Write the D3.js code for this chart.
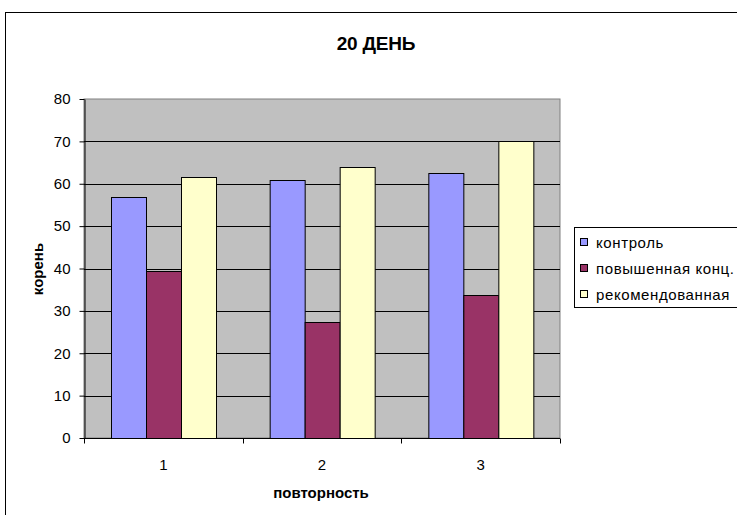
<!DOCTYPE html>
<html>
<head>
<meta charset="utf-8">
<script src="https://cdn.jsdelivr.net/npm/d3@7"></script>
<style>
  html, body { margin: 0; padding: 0; background: #fff; }
  svg { display: block; font-family: "Liberation Sans", Arial, sans-serif; }
</style>
</head>
<body>
<svg id="chart" width="737" height="515"></svg>
<script>
// Chart data
const categories = ["1", "2", "3"];
const seriesNames = ["контроль", "повышенная конц.", "рекомендованная"];
const control = [56.8, 60.9, 62.6];
const highConc = [39.3, 27.4, 33.7];
const recommended = [61.7, 63.9, 70.0];
const yTicks = [0, 10, 20, 30, 40, 50, 60, 70, 80];
const seriesColors = ["#9999FF", "#993366", "#FFFFCC"];

const seriesValues = [control, highConc, recommended];

const svg = d3.select("#chart");

// Outer chart frame
svg.append("rect")
  .attr("x", 5.5).attr("y", 12.5)
  .attr("width", 800).attr("height", 600)
  .attr("fill", "#fff").attr("stroke", "#000").attr("stroke-width", 1);

// Plot area geometry
const plot = { left: 84, right: 560, top: 99, bottom: 438 };

const x = d3.scaleBand()
  .domain(categories)
  .range([plot.left, plot.right]);

const xInner = d3.scaleBand()
  .domain(seriesNames)
  .range([0, x.bandwidth()])
  .paddingOuter(0.77)
  .paddingInner(0);

const y = d3.scaleLinear()
  .domain([0, 80])
  .range([plot.bottom, plot.top]);

// Plot background
svg.append("rect")
  .attr("x", plot.left).attr("y", plot.top)
  .attr("width", plot.right - plot.left).attr("height", plot.bottom - plot.top)
  .attr("fill", "#C0C0C0").attr("stroke", "#808080").attr("stroke-width", 1);

// Horizontal gridlines
svg.append("g")
  .selectAll("line")
  .data(yTicks.filter(t => t > 0 && t < 80))
  .join("line")
  .attr("x1", plot.left).attr("x2", plot.right)
  .attr("y1", d => Math.round(y(d)) + 0.5).attr("y2", d => Math.round(y(d)) + 0.5)
  .attr("stroke", "#000").attr("stroke-width", 1);

// Bars
const groups = svg.append("g")
  .selectAll("g")
  .data(categories)
  .join("g")
  .attr("transform", d => `translate(${x(d)},0)`);

groups.selectAll("rect")
  .data((d, i) => seriesNames.map((s, k) => ({ s, k, v: seriesValues[k][i] })))
  .join("rect")
  .attr("x", d => Math.round(xInner(d.s)) + 0.5)
  .attr("y", d => Math.round(y(d.v)) + 0.5)
  .attr("width", Math.round(xInner.bandwidth()))
  .attr("height", d => Math.round(y(0)) - Math.round(y(d.v)))
  .attr("fill", d => seriesColors[d.k])
  .attr("stroke", "#000").attr("stroke-width", 1);

// Y axis
const yAxis = svg.append("g")
  .attr("transform", `translate(${plot.left + 0.5},0)`)
  .call(d3.axisLeft(y).tickValues(yTicks).tickSize(5).tickPadding(9).tickSizeOuter(0));
yAxis.select(".domain").attr("stroke", "#000");
yAxis.selectAll(".tick line").attr("stroke", "#000");
yAxis.selectAll(".tick text")
  .attr("font-size", 15).attr("fill", "#000")
  .attr("font-family", "Liberation Sans, Arial, sans-serif");

// X axis: ticks on band boundaries, labels centred in bands
const xAxisG = svg.append("g")
  .attr("transform", `translate(0,${plot.bottom + 0.5})`);
xAxisG.append("line")
  .attr("x1", plot.left).attr("x2", plot.right)
  .attr("stroke", "#000");
const boundaries = categories.map(c => x(c)).concat([plot.right]);
xAxisG.selectAll("line.tk")
  .data(boundaries)
  .join("line")
  .attr("class", "tk")
  .attr("x1", d => Math.round(d) + 0.5).attr("x2", d => Math.round(d) + 0.5)
  .attr("y1", 0).attr("y2", 5)
  .attr("stroke", "#000");
xAxisG.selectAll("text")
  .data(categories)
  .join("text")
  .attr("x", d => x(d) + x.bandwidth() / 2)
  .attr("y", 31)
  .attr("text-anchor", "middle")
  .attr("font-size", 15)
  .text(d => d);

// Title
svg.append("text")
  .attr("x", 376).attr("y", 50)
  .attr("text-anchor", "middle")
  .attr("font-size", 19).attr("font-weight", "bold")
  .attr("letter-spacing", -0.2)
  .text("20 ДЕНЬ");

// Axis titles
svg.append("text")
  .attr("x", 321).attr("y", 498)
  .attr("text-anchor", "middle")
  .attr("font-size", 15).attr("font-weight", "bold")
  .text("повторность");

svg.append("text")
  .attr("transform", "translate(43,269) rotate(-90)")
  .attr("text-anchor", "middle")
  .attr("font-size", 15).attr("font-weight", "bold")
  .text("корень");

// Legend
const legend = svg.append("g");
legend.append("rect")
  .attr("x", 574.5).attr("y", 227.5)
  .attr("width", 200).attr("height", 80)
  .attr("fill", "#fff").attr("stroke", "#000");
const items = legend.selectAll("g.item")
  .data(seriesNames)
  .join("g")
  .attr("class", "item")
  .attr("transform", (d, i) => `translate(0,${243 + i * 26})`);
items.append("rect")
  .attr("x", 580.5).attr("y", -4.5)
  .attr("width", 7).attr("height", 7)
  .attr("fill", (d, i) => seriesColors[i])
  .attr("stroke", "#000");
items.append("text")
  .attr("x", 596).attr("y", 5)
  .attr("font-size", 15)
  .attr("letter-spacing", 0.6)
  .text(d => d);
</script>
</body>
</html>
